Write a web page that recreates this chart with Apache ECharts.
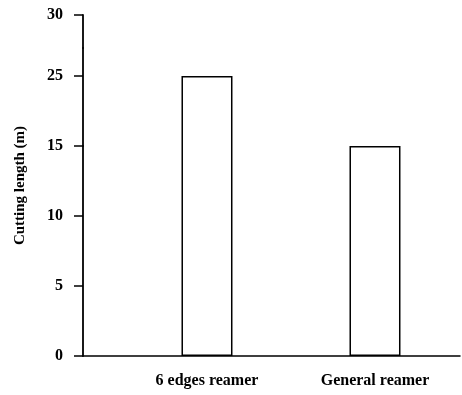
<!DOCTYPE html>
<html>
<head>
<meta charset="utf-8">
<script src="https://cdn.jsdelivr.net/npm/echarts@6/dist/echarts.min.js"></script>
<style>html,body{margin:0;padding:0;background:#fff;}#c{width:462px;height:395px;}</style>
</head>
<body>
<div id="c"></div>
<script>
var categories = ['6 edges reamer', 'General reamer'];
var values = [25, 15];
var yTicks = [0, 5, 10, 15, 25, 30];
var catPos = [1, 2];

var font = '"Liberation Serif", "DejaVu Serif", serif';
var chart = echarts.init(document.getElementById('c'));
chart.setOption({
  animation: false,
  grid: { left: 83, right: 2, top: 15, bottom: 39 },
  xAxis: {
    type: 'value', min: 0.262, max: 2.506,
    axisLine: { show: true, lineStyle: { color: '#000', width: 1.5 } },
    axisTick: { show: false },
    splitLine: { show: false },
    axisLabel: {
      customValues: catPos,
      formatter: function (v) { var i = catPos.indexOf(v); return i >= 0 ? categories[i] : ''; },
      fontFamily: font, fontSize: 16, fontWeight: 'bold', color: '#000', margin: 17
    }
  },
  yAxis: {
    type: 'value', min: 0, max: 30,
    breaks: [{ start: 15, end: 20, gap: 0 }, { start: 27, end: 27.65, gap: 0 }],
    breakArea: { show: false },
    name: 'Cutting length (m)', nameLocation: 'middle', nameGap: 55,
    nameTextStyle: { fontFamily: font, fontSize: 15, fontWeight: 'bold', color: '#000' },
    axisLine: { show: true, lineStyle: { color: '#000', width: 1.8 } },
    axisTick: { show: true, inside: false, length: 9, customValues: yTicks, lineStyle: { color: '#000', width: 1.5 } },
    splitLine: { show: false },
    axisLabel: {
      customValues: yTicks,
      formatter: function (v) { return yTicks.indexOf(v) >= 0 ? String(v) : ''; },
      fontFamily: font, fontSize: 16, fontWeight: 'bold', color: '#000', margin: 20
    }
  },
  series: [{
    type: 'bar', barWidth: 51,
    data: categories.map(function (c, i) { return [catPos[i], values[i]]; }),
    itemStyle: { color: '#fff', borderColor: '#000', borderWidth: 1.5 }
  }]
});
</script>
</body>
</html>
